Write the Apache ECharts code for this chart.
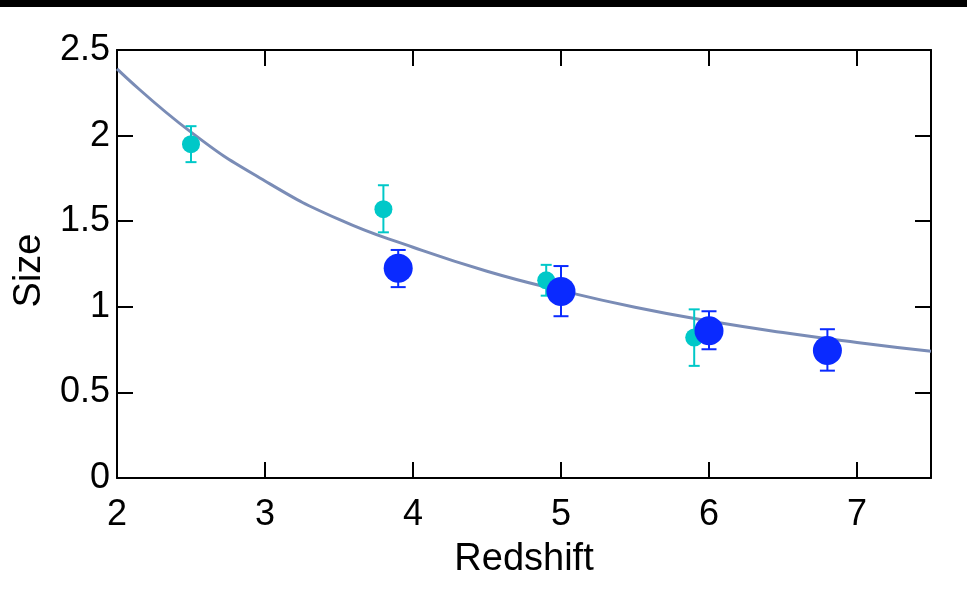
<!DOCTYPE html>
<html>
<head>
<meta charset="utf-8">
<script src="https://cdn.jsdelivr.net/npm/echarts@6/dist/echarts.min.js"></script>
<style>
html,body{margin:0;padding:0;background:#fff;}
#topbar{position:absolute;left:0;top:0;width:967px;height:7px;background:#000;z-index:2;}
#chart{position:absolute;left:0;top:0;width:967px;height:597px;}
</style>
</head>
<body>
<div id="chart"></div>
<div id="topbar"></div>
<script>
// Data
const xTicks = [2, 3, 4, 5, 6, 7];
const yTicks = [0, 0.5, 1, 1.5, 2, 2.5];

const cyanX  = [2.5, 3.8, 4.9, 5.9];
const cyanY  = [1.95, 1.57, 1.155, 0.82];
const cyanLo = [1.845, 1.435, 1.065, 0.655];
const cyanHi = [2.055, 1.71, 1.245, 0.985];

const blueX  = [3.9, 5.0, 6.0, 6.8];
const blueY  = [1.225, 1.09, 0.86, 0.745];
const blueLo = [1.115, 0.945, 0.752, 0.627];
const blueHi = [1.332, 1.238, 0.974, 0.869];

const curveX = [2.0, 2.5, 3.0, 3.5, 4.0, 4.5, 5.0, 5.5, 6.0, 6.5, 7.0, 7.5];
const curveY = [2.39, 2.02, 1.735, 1.51, 1.348, 1.208, 1.095, 0.997, 0.917, 0.85, 0.792, 0.74];

const FONT = '"Liberation Sans", Arial, Helvetica, sans-serif';
const CYAN = '#00C8C8';
const BLUE = '#0A2AFF';
const CURVE = '#7A8CB6';

function zip2(a, b) { return a.map((v, i) => [v, b[i]]); }
function zip3(a, b, c) { return a.map((v, i) => [v, b[i], c[i]]); }

function errorBar(color, capHalf, width) {
  return function (params, api) {
    const x = api.value(0), lo = api.value(1), hi = api.value(2);
    const pTop = api.coord([x, hi]);
    const pBot = api.coord([x, lo]);
    const style = { stroke: color, lineWidth: width };
    return {
      type: 'group',
      children: [
        { type: 'line', shape: { x1: pTop[0], y1: pTop[1], x2: pBot[0], y2: pBot[1] }, style: style },
        { type: 'line', shape: { x1: pTop[0] - capHalf, y1: pTop[1], x2: pTop[0] + capHalf, y2: pTop[1] }, style: style },
        { type: 'line', shape: { x1: pBot[0] - capHalf, y1: pBot[1], x2: pBot[0] + capHalf, y2: pBot[1] }, style: style }
      ]
    };
  };
}

const axisLine = { show: true, onZero: false, lineStyle: { color: '#000', width: 2 } };
const axisTick = { show: true, inside: true, length: 16, lineStyle: { color: '#000', width: 2 } };

const chart = echarts.init(document.getElementById('chart'), null, { renderer: 'canvas' });
chart.setOption({
  animation: false,
  backgroundColor: '#fff',
  grid: { left: 117, top: 50, right: 36, bottom: 119 },
  xAxis: [
    {
      type: 'value', min: 2, max: 7.5, interval: 1, position: 'bottom',
      name: 'Redshift', nameLocation: 'middle', nameGap: 63,
      nameTextStyle: { fontFamily: FONT, fontSize: 38, color: '#000' },
      axisLine: axisLine, axisTick: axisTick, splitLine: { show: false },
      axisLabel: { show: true, margin: 19, fontFamily: FONT, fontSize: 36, color: '#000', showMaxLabel: false,
        formatter: v => (xTicks.indexOf(v) >= 0 ? String(v) : '') }
    },
    {
      type: 'value', min: 2, max: 7.5, interval: 1, position: 'top',
      axisLine: axisLine, axisTick: axisTick, axisLabel: { show: false }, splitLine: { show: false }
    }
  ],
  yAxis: [
    {
      type: 'value', min: 0, max: 2.5, interval: 0.5, position: 'left',
      name: 'Size', nameLocation: 'middle', nameGap: 68, nameRotate: 90,
      nameTextStyle: { fontFamily: FONT, fontSize: 38, color: '#000', padding: [0, 0, 0, -13] },
      axisLine: axisLine, axisTick: axisTick, splitLine: { show: false },
      axisLabel: { show: true, margin: 7, fontFamily: FONT, fontSize: 36, color: '#000', padding: [9, 0, 0, 0],
        formatter: v => (yTicks.indexOf(v) >= 0 ? String(v) : '') }
    },
    {
      type: 'value', min: 0, max: 2.5, interval: 0.5, position: 'right',
      axisLine: axisLine, axisTick: axisTick, axisLabel: { show: false }, splitLine: { show: false }
    }
  ],
  series: [
    {
      type: 'line', data: zip2(curveX, curveY), smooth: true, showSymbol: false, symbol: 'none',
      lineStyle: { color: CURVE, width: 3 }, z: 2
    },
    {
      type: 'custom', data: zip3(cyanX, cyanLo, cyanHi), renderItem: errorBar(CYAN, 5.5, 2),
      encode: { x: 0, y: [1, 2] }, z: 3
    },
    {
      type: 'scatter', data: zip2(cyanX, cyanY), symbol: 'circle', symbolSize: 18,
      itemStyle: { color: CYAN, opacity: 1 }, z: 4
    },
    {
      type: 'custom', data: zip3(blueX, blueLo, blueHi), renderItem: errorBar(BLUE, 7.5, 2),
      encode: { x: 0, y: [1, 2] }, z: 5
    },
    {
      type: 'scatter', data: zip2(blueX, blueY), symbol: 'circle', symbolSize: 29,
      itemStyle: { color: BLUE, opacity: 1 }, z: 6
    }
  ]
});
</script>
</body>
</html>
